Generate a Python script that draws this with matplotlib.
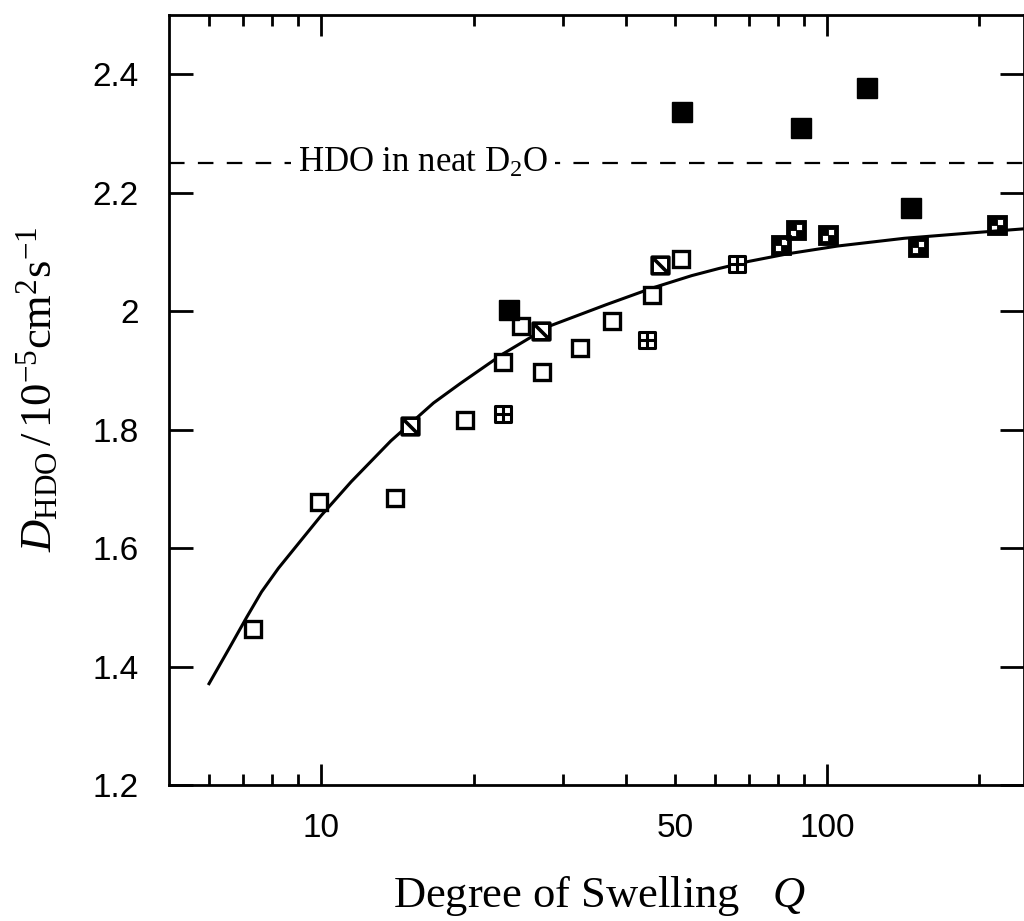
import matplotlib
matplotlib.use("Agg")
import matplotlib.pyplot as plt
from matplotlib.path import Path
from matplotlib.ticker import FixedLocator, FixedFormatter
import numpy as np

# ---- data ----
open_q = [7.32, 9.9, 14.0, 19.2, 22.9, 24.8, 27.3, 32.4, 37.5, 45.1, 51.4]
open_d = [1.464, 1.678, 1.685, 1.817, 1.914, 1.975, 1.897, 1.938, 1.983, 2.027, 2.088]

grid_q = [22.9, 44.1, 66.5]
grid_d = [1.827, 1.951, 2.080]

slash_q = [14.96, 27.2, 46.8]
slash_d = [1.806, 1.967, 2.078]

filled_q = [23.5, 51.6, 88.9, 119.9, 146.3]
filled_d = [2.002, 2.336, 2.309, 2.376, 2.174]

checker_q = [80.9, 86.9, 100.5, 151.0, 216.6]
checker_d = [2.112, 2.137, 2.128, 2.108, 2.145]

curve_q = [6.0, 6.57, 7.12, 7.62, 8.23, 9.14, 10.0, 11.46, 13.73, 16.67, 18.84,
           22.88, 28.3, 36.6, 45.1, 54.0, 61.1, 70.0, 83.8, 105, 142, 192, 245]
curve_d = [1.371, 1.430, 1.483, 1.526, 1.566, 1.614, 1.655, 1.712, 1.781, 1.845, 1.878,
           1.928, 1.975, 2.011, 2.039, 2.060, 2.072, 2.084, 2.097, 2.110, 2.123, 2.132, 2.139]

neat_d2o = 2.25

yticks = [1.2, 1.4, 1.6, 1.8, 2.0, 2.2, 2.4]
ytick_labels = ["1.2", "1.4", "1.6", "1.8", "2", "2.2", "2.4"]
xmajor = [10, 100]
xmajor_labels = ["10", "100"]
xminor = [6, 7, 8, 9, 20, 30, 40, 50, 60, 70, 80, 90, 200]
xminor_labels = ["", "", "", "", "", "", "", "50", "", "", "", "", ""]

# ---- marker shapes ----
def square(x0, y0, x1, y1, ccw=True):
    pts = [(x0, y0), (x1, y0), (x1, y1), (x0, y1)]
    if not ccw:
        pts = pts[::-1]
    return pts + [pts[0]], [Path.MOVETO, Path.LINETO, Path.LINETO, Path.LINETO, Path.CLOSEPOLY]

v, c = square(-1, -1, 1, 1)
grid_path = Path(v + [(0, -1), (0, 1), (-1, 0), (1, 0)],
                 c + [Path.MOVETO, Path.LINETO, Path.MOVETO, Path.LINETO])
slash_path = Path(v + [(-1, 1), (1, -1)], c + [Path.MOVETO, Path.LINETO])
v1, c1 = square(-0.05, -0.05, 0.62, 0.62, ccw=False)
v2, c2 = square(-0.62, -0.62, 0.05, 0.05, ccw=False)
checker_path = Path(v + v1 + v2, c + c1 + c2)

serif = ["Liberation Serif", "DejaVu Serif"]
plt.rcParams["mathtext.fontset"] = "custom"
plt.rcParams["mathtext.rm"] = "Liberation Serif"
plt.rcParams["mathtext.it"] = "Liberation Serif:italic"
plt.rcParams["mathtext.bf"] = "Liberation Serif:bold"

fig = plt.figure(figsize=(10.24, 9.21), dpi=100)
ax = fig.add_axes([0.165, 0.1477, 0.835, 0.836])
ax.set_xscale("log")
ax.set_xlim(5, 245)
ax.set_ylim(1.2, 2.5)

k = "black"
ax.plot(curve_q, curve_d, color=k, lw=2.2, zorder=2, solid_joinstyle="round")
ax.axhline(neat_d2o, color=k, lw=1.6, dashes=(7, 6), zorder=1)
ax.text(15.9, neat_d2o, "HDO in neat D$_2$O", family=serif, fontsize=25,
        ha="center", va="center", zorder=3,
        bbox=dict(facecolor="white", edgecolor="none", pad=5))

ax.plot(open_q, open_d, ls="none", marker="s", ms=12, mfc="white", mec=k, mew=2.4, zorder=4)
ax.plot(grid_q, grid_d, ls="none", marker=grid_path, ms=12, mfc="white", mec=k, mew=2.2, zorder=4)
ax.plot(slash_q, slash_d, ls="none", marker=slash_path, ms=12, mfc="white", mec=k, mew=2.6, zorder=4)
ax.plot(filled_q, filled_d, ls="none", marker="s", ms=14, mfc=k, mec=k, mew=1, zorder=4)
ax.plot(checker_q, checker_d, ls="none", marker=checker_path, ms=14, mfc=k, mec=k, mew=0.6, zorder=4)

for s in ax.spines.values():
    s.set_linewidth(2)

ax.xaxis.set_major_locator(FixedLocator(xmajor))
ax.xaxis.set_major_formatter(FixedFormatter(xmajor_labels))
ax.xaxis.set_minor_locator(FixedLocator(xminor))
ax.xaxis.set_minor_formatter(FixedFormatter(xminor_labels))
ax.set_yticks(yticks)
ax.set_yticklabels(ytick_labels)

ax.tick_params(which="both", direction="in", top=True, right=True, width=2,
               labelsize=24, labelfontfamily="Liberation Sans")
ax.tick_params(axis="x", which="major", length=15, pad=20)
ax.tick_params(axis="x", which="minor", length=8, pad=20)
ax.tick_params(axis="y", which="major", length=17, pad=22)

fig.text(393 / 1024, 1 - 907 / 921, "Degree of Swelling   $Q$", family=serif,
         fontsize=32, ha="left", va="baseline")
fig.text(37 / 1024, 1 - 552 / 921,
         r"$D_{\mathrm{HDO}}\,/\,10^{-5}\mathrm{cm}^{2}\mathrm{s}^{-1}$",
         family=serif, fontsize=32, rotation=90, ha="center", va="bottom")

fig.savefig("out.png", dpi=100, facecolor="white")
